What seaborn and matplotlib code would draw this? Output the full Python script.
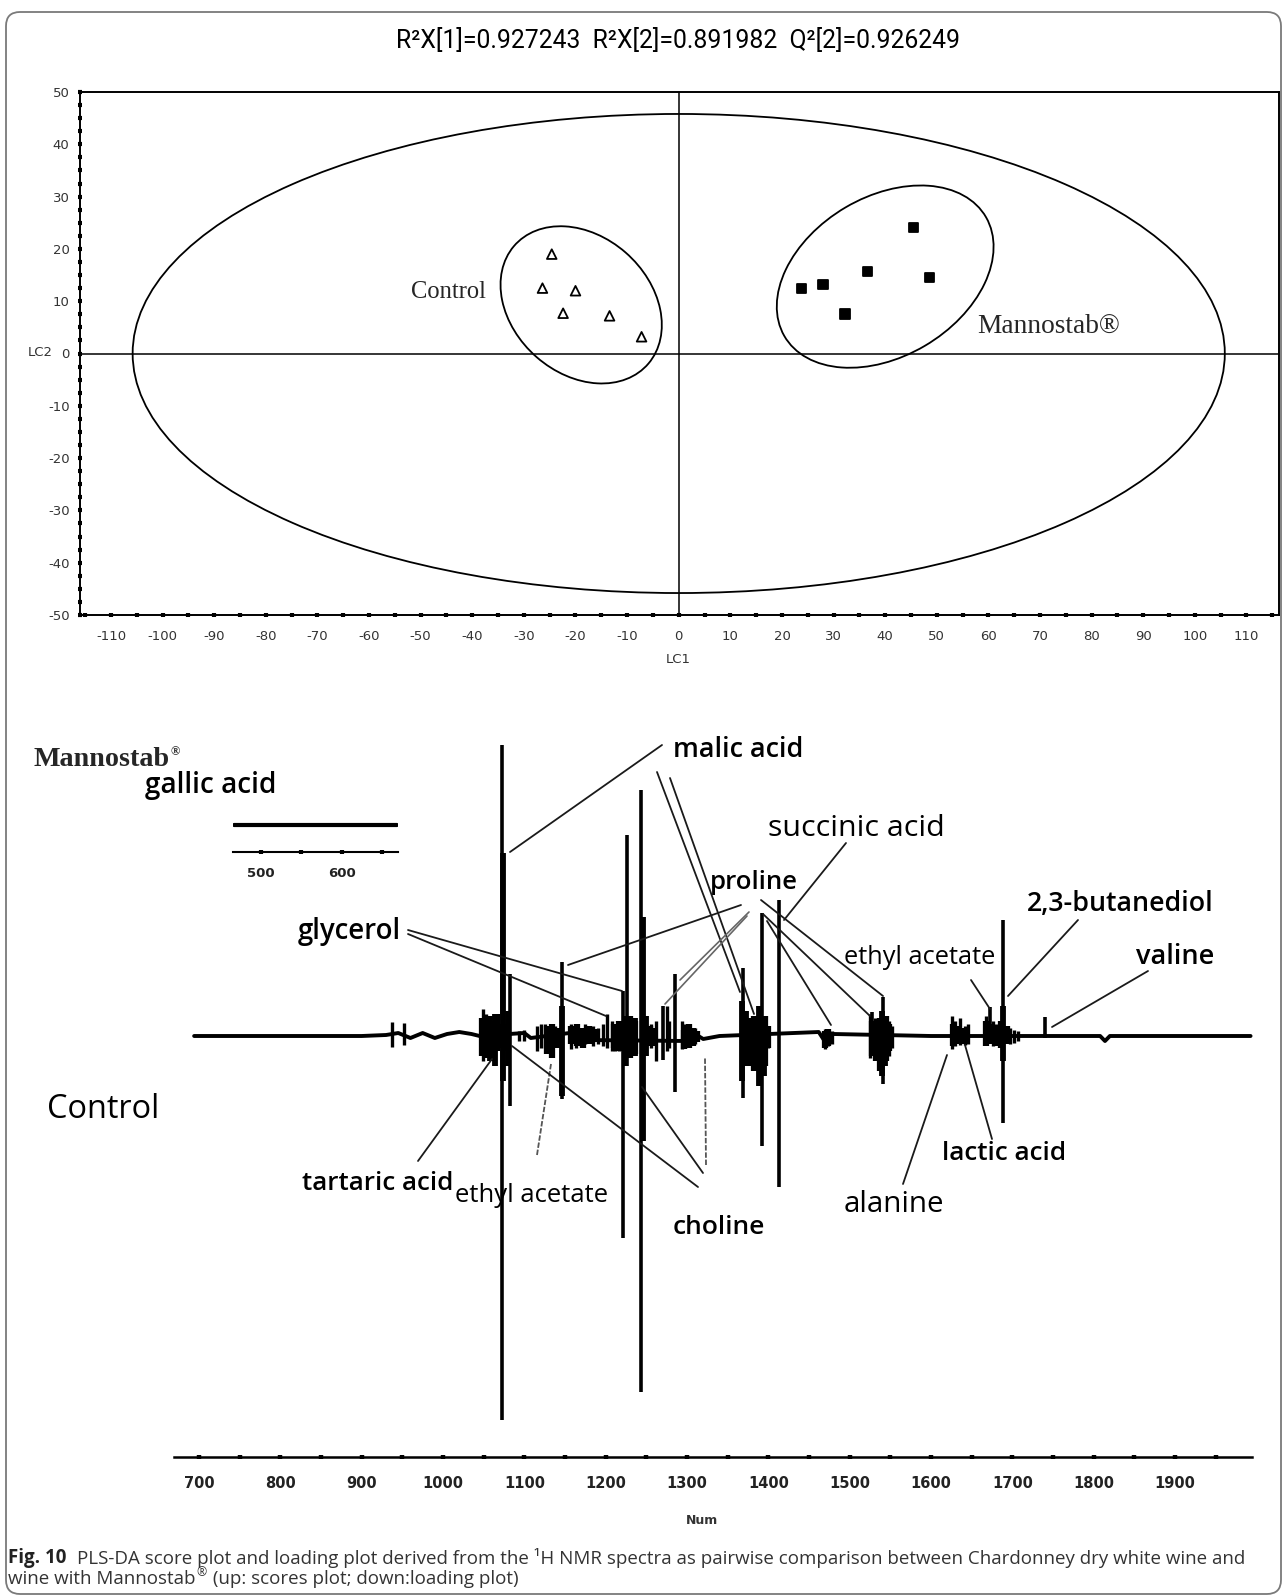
import numpy as np
import pandas as pd
import matplotlib
matplotlib.use("Agg")
import matplotlib.pyplot as plt
import seaborn as sns
from matplotlib.patches import Ellipse, FancyBboxPatch
from matplotlib.lines import Line2D
from matplotlib.transforms import IdentityTransform
from matplotlib.ticker import FixedLocator, MultipleLocator

# ---------------------------------------------------------------- data
title_text = "R²X[1]=0.927243  R²X[2]=0.891982  Q²[2]=0.926249"

# PLS-DA scores (LC1, LC2)
control_lc1 = [-24.6, -26.4, -20.0, -22.4, -13.4, -7.2]
control_lc2 = [19.0, 12.5, 12.0, 7.7, 7.2, 3.2]
manno_lc1 = [23.8, 27.9, 32.2, 36.6, 45.5, 48.6]
manno_lc2 = [12.4, 13.2, 7.5, 15.7, 24.1, 14.5]
group_names = ["Control", "Mannostab®"]

# ellipses: centre x, centre y, semi-axis a, semi-axis b, angle (deg)
t2_ellipse = (0.0, 0.0, 105.8, 45.8, 0.0)
control_ellipse = (-18.9, 9.3, 17.2, 13.2, -40.7)
manno_ellipse = (40.0, 14.7, 22.6, 15.3, 30.1)

lc1_ticks = list(range(-110, 111, 10))
lc2_ticks = list(range(-50, 51, 10))

# loading plot (Num, loading)
baseline_num = [694, 900, 930, 945, 960, 975, 990, 1005, 1020, 1035, 1045, 1100, 1108,
                1165, 1172, 1300, 1310, 1320, 1340, 1462, 1470, 1480, 1600, 1700,
                1760, 1808, 1814, 1820, 1993]
baseline_val = [0.0, 0.0, 0.01, 0.03, -0.02, 0.03, -0.02, 0.02, 0.04, 0.02, 0.0, 0.03, -0.02,
                0.04, -0.04, -0.05, 0.02, -0.03, 0.0, 0.04, -0.06, 0.02, 0.0, 0.0,
                0.0, 0.0, -0.05, 0.0, 0.0]

major_num = [1073, 1082, 1146, 1221, 1226, 1243, 1270, 1285, 1369, 1392, 1413,
             1527, 1541, 1673, 1689, 1740]
major_up = [2.91, 0.62, 0.74, 0.45, 2.01, 2.46, 0.30, 0.62, 0.68, 1.23, 1.36,
            0.24, 0.39, 0.29, 1.16, 0.19]
major_down = [-3.84, -0.70, -0.63, -2.02, -0.30, -3.56, -0.24, -0.56, -0.62, -1.10, -1.51,
              -0.12, -0.48, -0.07, -0.87, -0.02]

core_num = [1058, 1064, 1074, 1080, 1146, 1224, 1236, 1246, 1250, 1368, 1373,
            1389, 1395, 1540, 1543, 1688]
core_up = [0.20, 0.22, 1.83, 0.25, 0.30, 0.20, 0.18, 1.19, 0.20, 0.35, 0.25,
           0.30, 0.20, 0.25, 0.20, 0.30]
core_down = [-0.25, -0.30, -0.45, -0.30, -0.60, -0.30, -0.20, -1.05, -0.20, -0.45, -0.30,
             -0.50, -0.40, -0.40, -0.30, -0.25]

noise_num = [937, 952, 1049, 1053, 1093, 1100, 1116, 1120, 1126, 1131, 1138, 1142,
             1158, 1163, 1170, 1175, 1184, 1190, 1197, 1202, 1208, 1212, 1216, 1232,
             1256, 1262, 1275, 1278, 1294, 1297, 1302, 1310, 1380, 1384, 1400, 1470,
             1474, 1478, 1525, 1531, 1536, 1548, 1552, 1626, 1630, 1636, 1642, 1646,
             1668, 1676, 1680, 1697, 1702, 1707]
noise_up = [0.14, 0.13, 0.27, 0.22, 0.05, 0.06, 0.10, 0.12, 0.12, 0.08, 0.10, 0.06,
            0.12, 0.10, 0.08, 0.12, 0.10, 0.08, 0.12, 0.22, 0.15, 0.12, 0.15, 0.15,
            0.12, 0.15, 0.30, 0.15, 0.15, 0.12, 0.10, 0.08, 0.15, 0.12, 0.10, 0.07,
            0.06, 0.05, 0.22, 0.18, 0.12, 0.15, 0.10, 0.20, 0.15, 0.18, 0.10, 0.12,
            0.20, 0.15, 0.12, 0.08, 0.06, 0.05]
noise_down = [-0.11, -0.09, -0.25, -0.20, -0.05, -0.05, -0.15, -0.12, -0.12, -0.10, -0.10, -0.06,
              -0.13, -0.12, -0.10, -0.08, -0.10, -0.08, -0.10, -0.12, -0.15, -0.15, -0.15, -0.18,
              -0.12, -0.25, -0.15, -0.12, -0.13, -0.12, -0.10, -0.08, -0.25, -0.20, -0.12, -0.13,
              -0.10, -0.08, -0.22, -0.18, -0.15, -0.20, -0.12, -0.13, -0.10, -0.09, -0.09, -0.08,
              -0.07, -0.10, -0.08, -0.08, -0.07, -0.05]

blob_num = [1048, 1054, 1060, 1066, 1070, 1078, 1128, 1134, 1140, 1158, 1165, 1172, 1180,
            1187, 1210, 1216, 1230, 1236, 1254, 1260, 1296, 1302, 1308, 1312, 1378, 1382,
            1386, 1396, 1400, 1470, 1474, 1528, 1533, 1537, 1545, 1549, 1627, 1633, 1639,
            1668, 1674, 1680, 1686, 1694]
blob_up = [0.18, 0.20, 0.15, 0.22, 0.12, 0.12, 0.10, 0.12, 0.08, 0.10, 0.12, 0.08, 0.10,
           0.07, 0.12, 0.15, 0.20, 0.15, 0.10, 0.08, 0.06, 0.12, 0.08, 0.05, 0.18, 0.20,
           0.15, 0.20, 0.10, 0.05, 0.07, 0.15, 0.12, 0.18, 0.20, 0.12, 0.12, 0.10, 0.08,
           0.15, 0.12, 0.10, 0.15, 0.10]
blob_down = [-0.20, -0.22, -0.18, -0.15, -0.12, -0.15, -0.18, -0.22, -0.12, -0.08, -0.10, -0.12,
             -0.08, -0.06, -0.12, -0.15, -0.22, -0.18, -0.10, -0.10, -0.13, -0.12, -0.10, -0.06,
             -0.30, -0.35, -0.25, -0.30, -0.12, -0.12, -0.10, -0.20, -0.25, -0.35, -0.25, -0.15,
             -0.10, -0.08, -0.08, -0.10, -0.08, -0.10, -0.12, -0.08]

num_major_ticks = list(range(700, 1901, 100))
num_minor_ticks = list(range(750, 1951, 100))

# gallic acid inset scale
gallic_num = [467, 668]
gallic_val = [0.0, 0.0]
gallic_ticks = [500, 600]
gallic_minor = [550, 650]

label_texts = ["malic acid", "succinic acid", "proline", "glycerol", "gallic acid",
               "tartaric acid", "ethyl acetate", "choline", "alanine", "lactic acid",
               "ethyl acetate", "2,3-butanediol", "valine", "Control"]

caption_bold = "Fig. 10"
caption_l1 = "PLS-DA score plot and loading plot derived from the ¹H NMR spectra as pairwise comparison between Chardonney dry white wine and"
caption_l2a = "wine with Mannostab"
caption_l2b = "®"
caption_l2c = " (up: scores plot; down:loading plot)"

# ---------------------------------------------------------------- layout
W, H = 1284, 1596
sns.set_style("white")
plt.rcParams["font.family"] = ["DejaVu Sans"]
plt.rcParams["axes.unicode_minus"] = False

fig = plt.figure(figsize=(W / 100, H / 100), dpi=100)
renderer = fig.canvas.get_renderer()


def fx(px):
    return px / W


def fy(py):
    return 1 - py / H


def fit_text(x, y, s, width, ha="left", va="center", **kw):
    t = fig.text(fx(x), fy(y), s, ha=ha, va=va, fontsize=10, **kw)
    w = t.get_window_extent(renderer).width
    t.set_fontsize(10 * width / w)
    return t


# outer rounded frame
frame = FancyBboxPatch((6, 2), 1275, 1582, boxstyle="round,pad=0,rounding_size=14",
                       transform=IdentityTransform(), fill=False, ec="#7a7a7a", lw=1.3)
fig.add_artist(frame)

# ------------------------------------------------------------ scores plot
ax1 = fig.add_axes([fx(80), fy(615), (1279 - 80) / W, (615 - 92) / H])
scores = pd.DataFrame({
    "LC1": control_lc1 + manno_lc1,
    "LC2": control_lc2 + manno_lc2,
    "group": [group_names[0]] * len(control_lc1) + [group_names[1]] * len(manno_lc1),
})
sns.scatterplot(data=scores, x="LC1", y="LC2", hue="group", style="group",
                markers={group_names[0]: "^", group_names[1]: "s"},
                palette={group_names[0]: "white", group_names[1]: "black"},
                s=48, edgecolor="black", linewidth=1.3, legend=False, ax=ax1, zorder=5)
for cx, cy, a, b, ang in (t2_ellipse, control_ellipse, manno_ellipse):
    ax1.add_patch(Ellipse((cx, cy), 2 * a, 2 * b, angle=ang, fill=False,
                          ec="black", lw=1.3))
ax1.axhline(0, color="black", lw=1.1)
ax1.axvline(0, color="black", lw=1.1)
ax1.set_xlim(-116.0, 116.3)
ax1.set_ylim(-50, 50)
ax1.xaxis.set_major_locator(FixedLocator(lc1_ticks))
ax1.xaxis.set_minor_locator(MultipleLocator(5))
ax1.yaxis.set_major_locator(FixedLocator(lc2_ticks))
ax1.yaxis.set_minor_locator(MultipleLocator(2.5))
ax1.tick_params(which="both", direction="inout", length=3.0, width=3.0, color="black",
                bottom=True, left=True)
ax1.tick_params(axis="x", labelsize=9.5, pad=9, labelcolor="#333333")
ax1.tick_params(axis="y", labelsize=9.5, pad=6, labelcolor="#333333")
ax1.set_xlabel("")
ax1.set_ylabel("")
for sp in ax1.spines.values():
    sp.set_color("black")
    sp.set_linewidth(1.4)

fit_text(678, 41, title_text, 562, ha="center", family=["Roboto", "DejaVu Sans"],
         color="black")
fig.text(fx(40), fy(353), "LC2", ha="center", va="center", fontsize=9.5, color="#333333")
fig.text(fx(678), fy(660), "LC1", ha="center", va="center", fontsize=9.5, color="#333333")
fit_text(448, 292, group_names[0], 75, ha="center", family=["Liberation Serif"])
fit_text(1049, 326, group_names[1], 143, ha="center", family=["Liberation Serif"])

# ----------------------------------------------------------- loading plot
ax2 = fig.add_axes([0, fy(1457), 1, (1457 - 700) / H])
ax2.patch.set_visible(False)
base_df = pd.DataFrame({"Num": baseline_num, "loading": baseline_val})
sns.lineplot(data=base_df, x="Num", y="loading", color="black", lw=2.8, ax=ax2, sort=False)
ax2.vlines(blob_num, blob_down, blob_up, color="black", lw=4.5)
ax2.vlines(noise_num, noise_down, noise_up, color="black", lw=2.4)
ax2.vlines(core_num, core_down, core_up, color="black", lw=4.2)
ax2.vlines(major_num, major_down, major_up, color="black", lw=2.6)
ax2.set_xlim(455.3, 2034.1)
ax2.set_ylim(-4.21, 3.36)
for k in ("left", "right", "top"):
    ax2.spines[k].set_visible(False)
ax2.spines["bottom"].set_bounds(669, 1995)
ax2.spines["bottom"].set_linewidth(1.8)
ax2.spines["bottom"].set_color("black")
ax2.xaxis.set_major_locator(FixedLocator(num_major_ticks))
ax2.xaxis.set_minor_locator(FixedLocator(num_minor_ticks))
ax2.tick_params(axis="x", which="both", direction="inout", length=3.2, width=3.2,
                color="black", bottom=True)
ax2.tick_params(axis="x", labelsize=10.5, pad=12, labelcolor="#222222")
for lab in ax2.get_xticklabels():
    lab.set_fontweight("bold")
ax2.set_yticks([])
ax2.set_xlabel("")
ax2.set_ylabel("")
fig.text(fx(702), fy(1520), "Num", ha="center", va="center", fontsize=9,
         fontweight="bold", color="#333333")

# gallic acid inset scale
ax3 = fig.add_axes([fx(233), fy(852), (398 - 233) / W, (852 - 815) / H])
ax3.patch.set_visible(False)
sns.lineplot(x=gallic_num, y=gallic_val, color="black", lw=3.0, ax=ax3)
ax3.set_xlim(465.3, 669.8)
ax3.set_ylim(-1.0, 0.37)
for k in ("left", "right", "top"):
    ax3.spines[k].set_visible(False)
ax3.spines["bottom"].set_linewidth(1.5)
ax3.spines["bottom"].set_color("black")
ax3.xaxis.set_major_locator(FixedLocator(gallic_ticks))
ax3.xaxis.set_minor_locator(FixedLocator(gallic_minor))
ax3.tick_params(axis="x", which="both", direction="inout", length=3.0, width=3.0,
                color="black", bottom=True)
ax3.tick_params(axis="x", labelsize=9.5, pad=9, labelcolor="#222222")
for lab in ax3.get_xticklabels():
    lab.set_fontweight("bold")
ax3.set_yticks([])
ax3.set_xlabel("")
ax3.set_ylabel("")

# labels: (left px, centre px, width px, weight)
label_layout = [
    (673, 750, 130, "semibold"), (768, 829, 177, "normal"), (710, 882, 88, "semibold"),
    (298, 932, 104, "semibold"), (145, 786, 131, "semibold"), (302, 1184, 151, "semibold"),
    (455, 1196, 153, "normal"), (673, 1227, 93, "semibold"), (844, 1204, 101, "normal"),
    (942, 1154, 124, "semibold"), (844, 957, 152, "normal"), (1027, 904, 187, "semibold"),
    (1136, 957, 78, "semibold"), (47, 1109, 112, "normal"),
]
for txt, (lx, ly, lw_, wt) in zip(label_texts, label_layout):
    fit_text(lx, ly, txt, lw_, family=["Open Sans", "DejaVu Sans"], fontweight=wt,
             color="black")

fit_text(33, 760, "Mannostab", 136, family=["Liberation Serif"], fontweight="bold")
fig.text(fx(171), fy(752), "®", ha="left", va="center", fontsize=9,
         family=["Liberation Serif"], fontweight="bold")

# leader lines (px): start, end, kind
leaders = [
    ((662, 745), (510, 852), 0), ((657, 772), (740, 992), 0), ((670, 778), (754, 1014), 0),
    ((846, 843), (784, 920), 0),
    ((741, 905), (568, 965), 0), ((749, 912), (680, 980), 1), ((747, 916), (665, 1004), 1),
    ((761, 900), (883, 996), 0), ((763, 914), (870, 1016), 0), ((767, 921), (831, 1025), 0),
    ((408, 930), (622, 991), 0), ((408, 934), (606, 1016), 0),
    ((418, 1161), (492, 1059), 0),
    ((537, 1155), (551, 1064), 2),
    ((698, 1187), (512, 1046), 0), ((703, 1173), (642, 1087), 0), ((706, 1165), (705, 1058), 2),
    ((903, 1184), (947, 1055), 0),
    ((992, 1139), (965, 1045), 0),
    ((971, 980), (990, 1009), 0),
    ((1078, 920), (1008, 996), 0),
    ((1148, 971), (1052, 1027), 0),
]
for (x0, y0), (x1, y1), kind in leaders:
    if kind == 0:
        kw = dict(color="#1a1a1a", lw=1.3)
    elif kind == 1:
        kw = dict(color="#666666", lw=1.2)
    else:
        kw = dict(color="#555555", lw=1.3, ls=(0, (3, 1)))
    fig.add_artist(Line2D([fx(x0), fx(x1)], [fy(y0), fy(y1)], transform=fig.transFigure, **kw))

# ---------------------------------------------------------------- caption
cap_font = ["Open Sans", "DejaVu Sans"]
runs1 = [fig.text(0, fy(1558), caption_bold, ha="left", va="center", fontsize=10,
                  fontweight="bold", family=cap_font, color="#222222"),
         fig.text(0, fy(1558), caption_l1, ha="left", va="center", fontsize=10,
                  family=cap_font, color="#333333")]
gap = 0.55
w0 = sum(r.get_window_extent(renderer).width for r in runs1)
fs = 10 * (1238 - 9) / w0
x = 8
for i, r in enumerate(runs1):
    r.set_fontsize(fs)
    r.set_x(fx(x))
    x += r.get_window_extent(renderer).width + (fs * gap * 1.389 if i == 0 else 0)

x = 8
r = fig.text(fx(x), fy(1579), caption_l2a, ha="left", va="center", fontsize=fs,
             family=cap_font, color="#333333")
x += r.get_window_extent(renderer).width + 1
r = fig.text(fx(x), fy(1573), caption_l2b, ha="left", va="center", fontsize=fs * 0.65,
             family=cap_font, color="#333333")
x += r.get_window_extent(renderer).width + 1
fig.text(fx(x), fy(1579), caption_l2c, ha="left", va="center", fontsize=fs,
         family=cap_font, color="#333333")

fig.savefig("out.png", dpi=100)
